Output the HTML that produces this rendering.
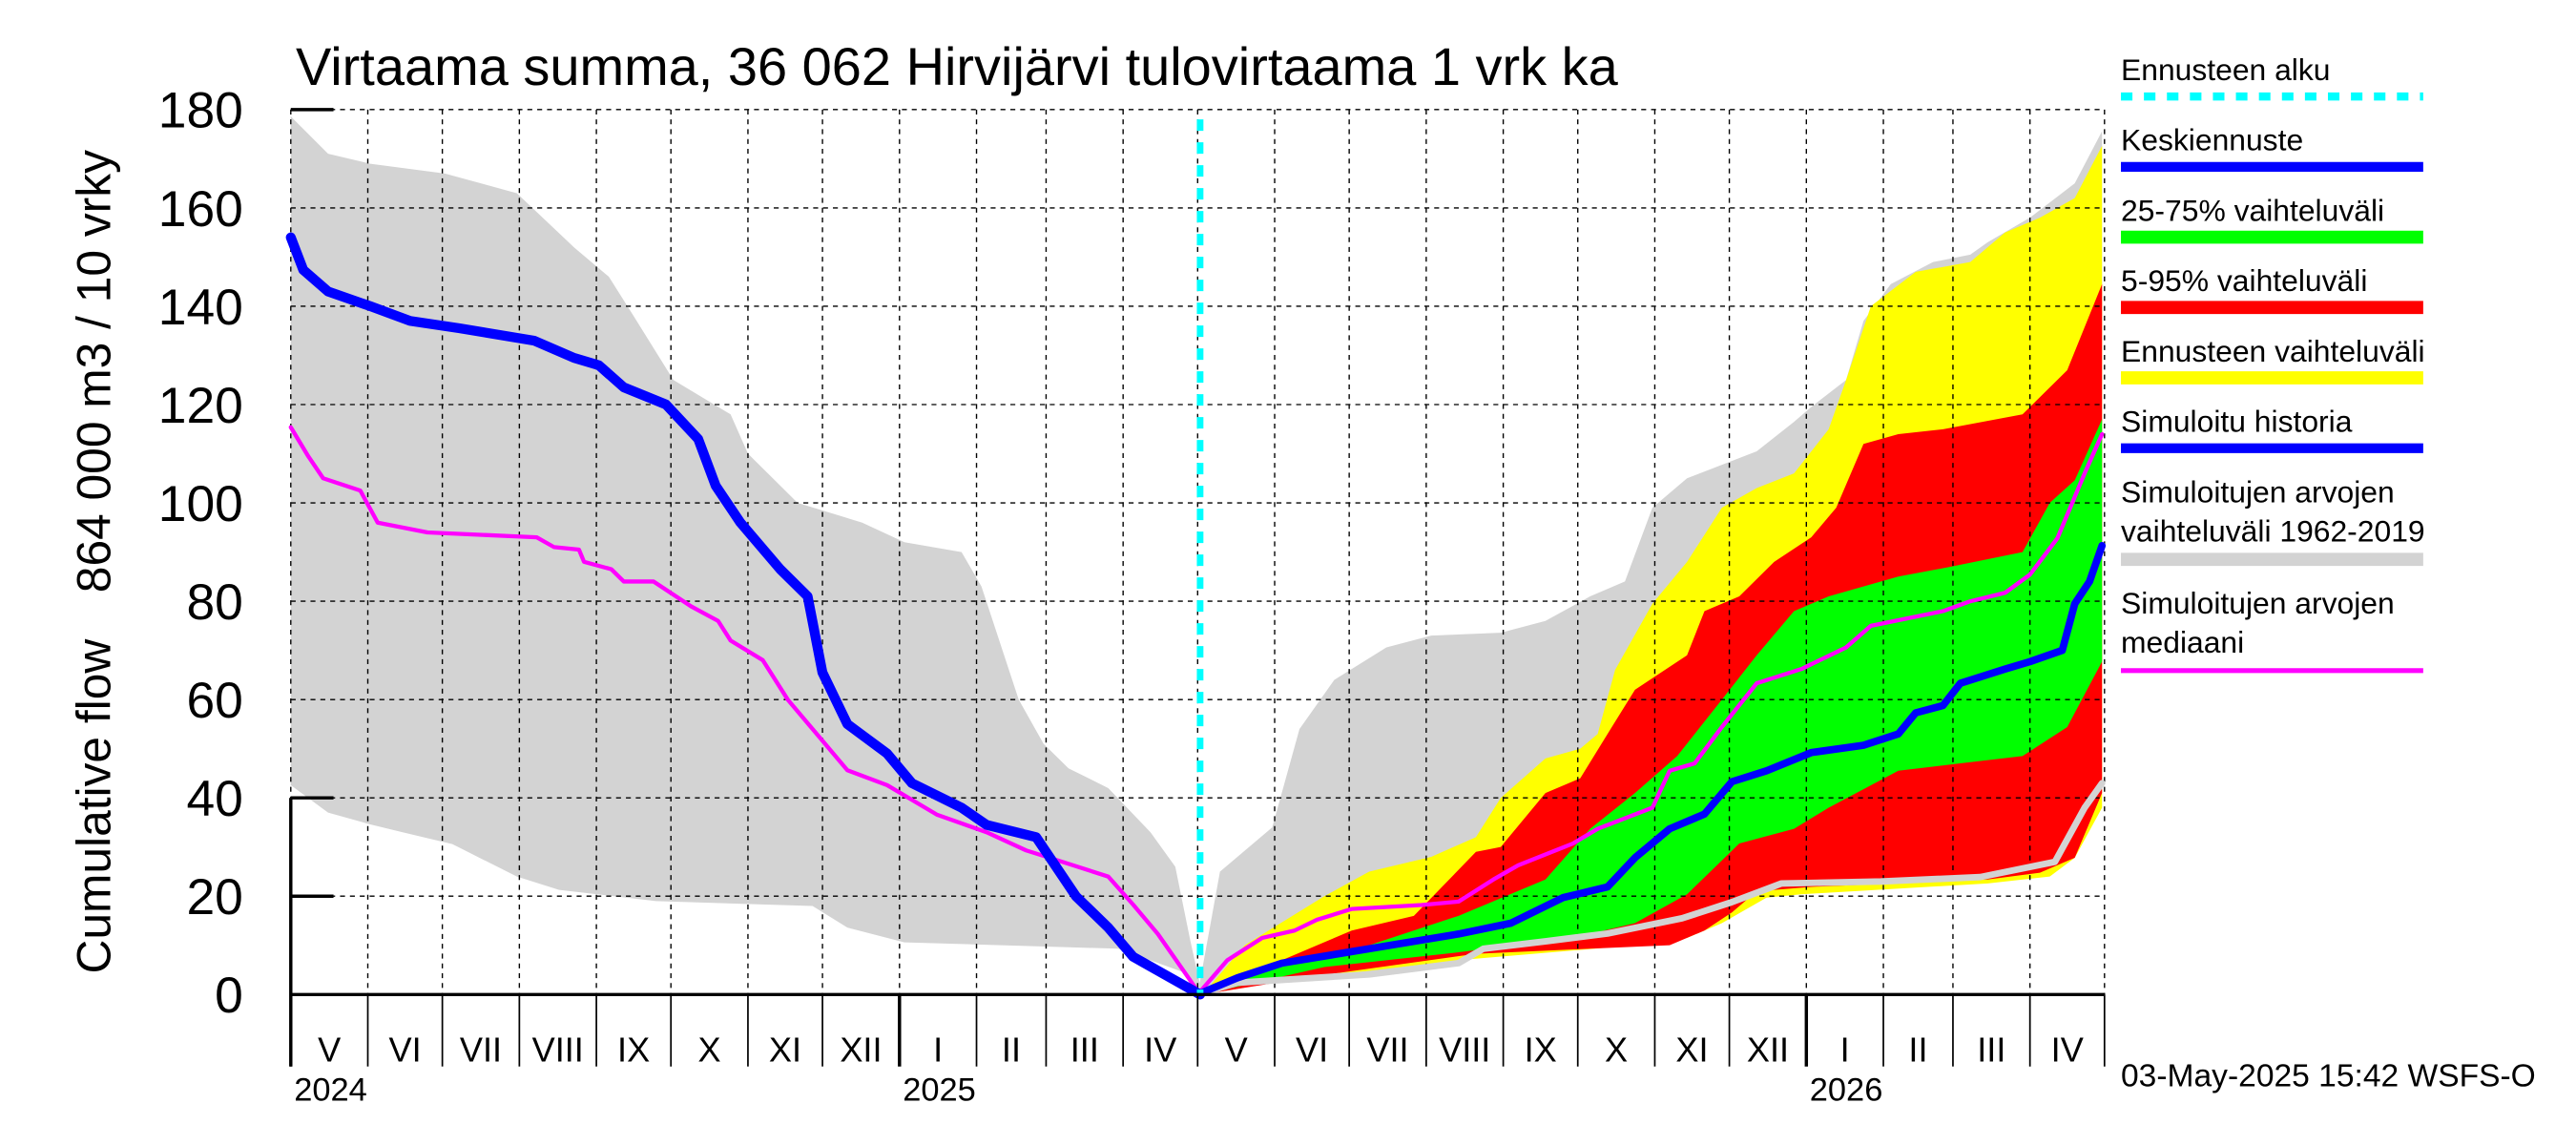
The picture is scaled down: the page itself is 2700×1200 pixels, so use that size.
<!DOCTYPE html>
<html><head><meta charset="utf-8"><style>
html,body{margin:0;padding:0;background:#fff;}
svg{display:block;font-family:"Liberation Sans",sans-serif;}
</style></head><body>
<svg id="chart" width="2700" height="1200" viewBox="0 0 1568 700" preserveAspectRatio="none" xmlns="http://www.w3.org/2000/svg">
<text x="180" y="52" font-size="32.5">Virtaama summa, 36 062 Hirvijärvi tulovirtaama 1 vrk ka</text>
<text transform="translate(67,493) rotate(-90)" text-anchor="middle" font-size="29">Cumulative flow</text>
<text transform="translate(67,227) rotate(-90)" text-anchor="middle" font-size="29">864 000 m3 / 10 vrky</text>
<g id="fills"></g><g id="grid"></g><g id="lines"></g><g id="axes"></g>
<g font-size="18.5">
<text x="1291" y="49">Ennusteen alku</text>
<line x1="1291" y1="59" x2="1475" y2="59" stroke="#00ffff" stroke-width="5" stroke-dasharray="7,7"/>
<text x="1291" y="92">Keskiennuste</text>
<line x1="1291" y1="102" x2="1475" y2="102" stroke="#0000ff" stroke-width="6"/>
<text x="1291" y="135">25-75% vaihteluväli</text>
<line x1="1291" y1="145" x2="1475" y2="145" stroke="#00ff00" stroke-width="8"/>
<text x="1291" y="178">5-95% vaihteluväli</text>
<line x1="1291" y1="188" x2="1475" y2="188" stroke="#ff0000" stroke-width="8"/>
<text x="1291" y="221">Ennusteen vaihteluväli</text>
<line x1="1291" y1="231" x2="1475" y2="231" stroke="#ffff00" stroke-width="8"/>
<text x="1291" y="264">Simuloitu historia</text>
<line x1="1291" y1="274" x2="1475" y2="274" stroke="#0000ff" stroke-width="6"/>
<text x="1291" y="307">Simuloitujen arvojen</text>
<text x="1291" y="331">vaihteluväli 1962-2019</text>
<line x1="1291" y1="342" x2="1475" y2="342" stroke="#d3d3d3" stroke-width="8"/>
<text x="1291" y="375">Simuloitujen arvojen</text>
<text x="1291" y="399">mediaani</text>
<line x1="1291" y1="410" x2="1475" y2="410" stroke="#ff00ff" stroke-width="3"/>
</g>
<text x="1291" y="664" font-size="19.5">03-May-2025 15:42 WSFS-O</text>
</svg>
<script>
// ---- data (day index from 2024-05-01, cumulative value) ----
const yTicks = [0,20,40,60,80,100,120,140,160,180];
const monthLabels = ["V","VI","VII","VIII","IX","X","XI","XII","I","II","III","IV","V","VI","VII","VIII","IX","X","XI","XII","I","II","III","IV"];
const monthStarts = [0,31,61,92,123,153,184,214,245,276,304,335,365,396,426,457,488,518,549,579,610,641,669,700,730];
const yearLabels = ["2024","2025","2026"];
const yearDays = [0,245,610];
const forecastStartDay = 366;

const histUpperDays = [0,15,32,62,91,114,128,138,154,177,184,204,230,247,270,278,293,303,313,329,346,356,362,366];
const histUpperVals = [178.6,171,169,167,163,152,146,138,125,118,110,100,96,92,90,83,60,51,46,42,33,26,11,2];
const histLowerDays = [0,15,32,45,65,91,108,147,210,224,247,313,333,359,366];
const histLowerVals = [42.6,37,34.6,33,30.6,24,21.3,19,18,13.6,10.6,9.6,9.3,4.6,0];
const histBlueDays = [0,5,15,32,48,68,98,114,124,134,151,164,171,181,197,208,214,224,240,250,270,280,300,316,329,339,366];
const histBlueVals = [154,147.4,143,140,137,135.5,133,129.5,128,123.5,120,113,103.5,96,86.5,81,65.5,55,49,43,38,34.5,32,20,13.6,7.7,0];
const histMedDays = [0,7,13,28,35,55,99,106,116,118,129,134,146,161,172,177,190,200,210,224,240,260,280,296,306,329,339,349,366];
const histMedVals = [115.4,109.5,105,102.5,96,94,93,91,90.5,88,86.5,84,84,79,76,72,68,60,54,45.6,42.6,36.6,33,29.3,27.7,24,18.3,12.3,0];

const fGrayUpDays = [365,374,395,406,420,441,459,487,505,523,537,548,562,590,605,612,626,633,644,661,676,683,700,718,729];
const fGrayUpVals = [0,25,34,54,64,70.6,73,73.6,76,81,84,99,105,110.5,116.5,119.5,125,137,144.5,149,150.5,153,158,165,175.6];
const fGrayLoDays = [365,381,434,470,480,505,530,560,580,600,640,680,710,722,729];
const fGrayLoVals = [0,2.4,4.1,6.4,9.3,10.8,12.4,15.5,18.8,22.6,23,23.9,27,38,43];
const fYelUpDays = [367,384,416,434,459,477,487,505,519,526,533,548,562,576,590,605,619,626,636,654,676,690,704,718,729];
const fYelUpVals = [0,10,20,25,28,32,40,48,50,53,66,79.5,88,99,103,106,115,125,140,147,149,155,158,162,172.6];
const fYelLoDays = [367,399,470,541,562,576,594,608,683,708,718,729];
const fYelLoVals = [0,2.7,7,10,11.5,14.5,19.7,20.4,22.6,24,27.8,38];
const fRedUpDays = [367,399,427,452,477,487,505,519,530,541,562,569,583,597,612,622,633,647,665,697,715,729];
const fRedUpVals = [0,7,13,16,29,30,41,44,53,62,69,78,81,88,93,99,112,114,115,118,127,144.5];
const fRedLoDays = [367,416,477,523,555,569,580,590,612,683,704,718,729];
const fRedLoVals = [0,4,8.3,9.3,10,13,16.7,21,21.9,23.4,24.8,27.8,41];
const fGrnUpDays = [367,399,434,470,505,523,541,558,576,590,605,619,647,668,697,708,718,729];
const fGrnUpVals = [0,6.4,10,16,23.4,33.7,41,48.5,60,69,78,81,85,87,90,100,104.6,117];
const fGrnLoDays = [367,416,470,516,541,562,583,605,619,647,672,697,715,729];
const fGrnLoVals = [0,5.6,8.6,11.5,14.5,20.4,30.7,33.7,38,45.5,47,48.5,54.4,67.7];
const fBlueDays = [365,381,399,434,470,491,512,530,541,555,569,580,594,612,633,647,654,665,672,690,700,713,718,724,729];
const fBlueVals = [0,3.4,6.4,9.3,12.3,14.5,19.7,21.9,27.8,33.7,36.7,43.3,45.5,49.2,50.7,53,57.3,58.8,63.3,66.2,67.7,70,79.5,84,91.3];
const fMedDays = [365,377,391,404,413,427,455,470,484,494,516,526,548,555,565,576,590,608,626,636,665,676,690,700,711,722,729];
const fMedVals = [0,7,11.5,13,15.2,17.4,18.2,18.9,23.4,26.3,30.7,33.7,38,45.5,47,54.4,63.3,66.2,70.6,75,78,80,81.7,85.4,92.8,106,114];

// ---- axis functions ----
const X0=177, X1=1281, Y0=608, Y1=67, D=730, VMAX=180;
function xs(d){return X0+(X1-X0)*d/D;}
function ys(v){return Y0-(Y0-Y1)*v/VMAX;}
const NS="http://www.w3.org/2000/svg";
function mk(tag,attrs,parent){const e=document.createElementNS(NS,tag);for(const k in attrs)e.setAttribute(k,attrs[k]);parent.appendChild(e);return e;}
function pts(ds,vs){return ds.map((d,i)=>xs(d).toFixed(1)+","+ys(vs[i]).toFixed(1));}
const fills=document.getElementById("fills"),grid=document.getElementById("grid"),lines=document.getElementById("lines"),axes=document.getElementById("axes");
function band(ud,uv,ld,lv,color,name){
  const p=pts(ud,uv).concat(pts(ld,lv).reverse());
  const el=mk("polygon",{points:p.join(" "),fill:color},fills);
  
  
}
function line(ds,vs,color,w,name){
  const el=mk("polyline",{points:pts(ds,vs).join(" "),fill:"none",stroke:color,"stroke-width":w,"stroke-linejoin":"round","stroke-linecap":"round"},lines);
  
  
}
band(histUpperDays,histUpperVals,histLowerDays,histLowerVals,"#d3d3d3","history-range-band");
band(fGrayUpDays,fGrayUpVals,fGrayLoDays,fGrayLoVals,"#d3d3d3","forecast-sim-range-band");
band(fYelUpDays,fYelUpVals,fYelLoDays,fYelLoVals,"#ffff00","forecast-range-band");
band(fRedUpDays,fRedUpVals,fRedLoDays,fRedLoVals,"#ff0000","band-5-95");
band(fGrnUpDays,fGrnUpVals,fGrnLoDays,fGrnLoVals,"#00ff00","band-25-75");

// grid
yTicks.forEach(v=>{
  if(v===0)return;
  const g=mk("line",{x1:X0,x2:X1,y1:ys(v),y2:ys(v),stroke:"#000","stroke-width":0.8,"stroke-dasharray":"3,3"},grid);
  
  
});
monthStarts.forEach(d=>{
  const g=mk("line",{x1:xs(d),x2:xs(d),y1:Y1,y2:Y0,stroke:"#000","stroke-width":0.8,"stroke-dasharray":"3,3"},grid);
  
  
});

line(fGrayLoDays,fGrayLoVals,"#d3d3d3",4,"forecast-sim-min-line");
line(histMedDays,histMedVals,"#ff00ff",2.5,"history-median-line");
line(fMedDays,fMedVals,"#ff00ff",2.5,"forecast-median-line");
line(histBlueDays,histBlueVals,"#0000ff",6,"simulated-history-line");
line(fBlueDays,fBlueVals,"#0000ff",4.5,"mean-forecast-line");
const fs=mk("line",{x1:xs(forecastStartDay),x2:xs(forecastStartDay),y1:ys(178),y2:Y0,stroke:"#00ffff","stroke-width":4,"stroke-dasharray":"7,7"},lines);



// axes
mk("line",{x1:X0,x2:X1,y1:Y0,y2:Y0,stroke:"#000","stroke-width":2},axes);
mk("line",{x1:X0,x2:X0,y1:ys(40),y2:Y0+44,stroke:"#000","stroke-width":2},axes);
[180,40,20].forEach(v=>mk("line",{x1:X0,x2:X0+26,y1:ys(v),y2:ys(v),stroke:"#000","stroke-width":2},axes));
yTicks.forEach(v=>{
  const t=mk("text",{x:148,y:ys(v)+11,"text-anchor":"end","font-size":31},axes);
  t.textContent=v;
  
  
});
monthStarts.forEach((d,i)=>{
  const yr=yearDays.indexOf(d)>0;
  mk("line",{x1:xs(d),x2:xs(d),y1:Y0,y2:Y0+44,stroke:"#000","stroke-width":yr?2:1},axes);
  if(i<monthLabels.length){
    const t=mk("text",{x:(xs(d)+xs(monthStarts[i+1]))/2,y:Y0+41,"text-anchor":"middle","font-size":21},axes);
    t.textContent=monthLabels[i];
    
    
  }
});
yearDays.forEach((d,i)=>{
  const t=mk("text",{x:xs(d)+2,y:673,"font-size":20},axes);
  t.textContent=yearLabels[i];
  
  
});
</script>
</body></html>
